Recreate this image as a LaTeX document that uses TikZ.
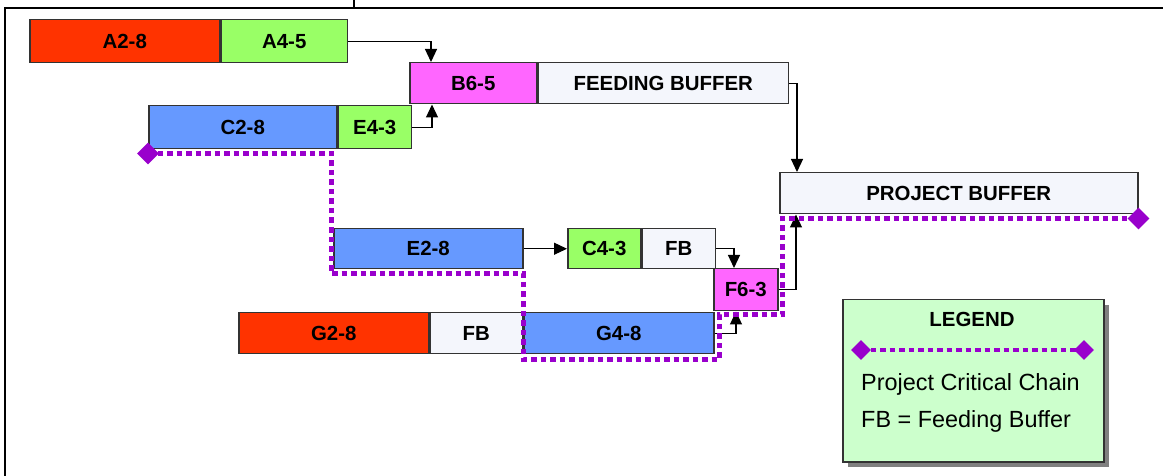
\documentclass[tikz,border=0pt]{standalone}
\usepackage{fontspec}
\setmainfont{Liberation Sans}
\usetikzlibrary{positioning,calc,arrows.meta,shapes.geometric,shadows}

\definecolor{taskred}{HTML}{FF3300}
\definecolor{taskgreen}{HTML}{99FF66}
\definecolor{taskblue}{HTML}{6699FF}
\definecolor{taskpink}{HTML}{FF66FF}
\definecolor{bufferfill}{HTML}{F4F6FC}
\definecolor{chain}{HTML}{9900CC}
\definecolor{legendfill}{HTML}{CCFFCC}

\tikzset{
	task/.style={draw=black!80, line width=1.5bp, inner sep=0pt, minimum height=41bp, font=\fontsize{20.5}{24}\selectfont\bfseries},
	flow/.style={line width=1.2bp, -{Triangle[width=12bp,length=13bp]}},
	critical/.style={draw=chain, line width=5bp, dash pattern=on 5.5bp off 4bp},
	gem/.style={diamond, fill=chain, inner sep=0pt, minimum size=22bp},
}

\begin{document}
\begin{tikzpicture}[x=1bp,y=-1bp]
		\useasboundingbox (0,0) rectangle (1163,476);

		\draw[line width=2bp] (5,476) |- (1163,8);
		\draw[line width=1.5bp] (354,0) -- (354,8);

		\node[task, fill=taskred, minimum width=190bp, minimum height=43bp, anchor=north west] (a28) at (29,19) {A2-8};
		\node[task, fill=taskgreen, minimum width=126bp, minimum height=43bp, right=0pt of a28] (a45) {A4-5};

		\node[task, fill=taskpink, minimum width=127bp, anchor=north west] (b65) at (409,62) {B6-5};
		\node[task, fill=bufferfill, minimum width=250bp, right=0pt of b65] (fbuf) {FEEDING BUFFER};

		\node[task, fill=taskblue, minimum width=188bp, minimum height=43bp, anchor=north west] (c28) at (148,105) {C2-8};
		\node[task, fill=taskgreen, minimum width=73bp, minimum height=43bp, right=0pt of c28] (e43) {E4-3};

		\node[task, fill=bufferfill, minimum width=358bp, anchor=north west] (pb) at (779,172) {PROJECT BUFFER};

		\node[task, fill=taskblue, minimum width=189bp, minimum height=40bp, anchor=north west] (e28) at (333,228) {E2-8};
		\node[task, fill=taskgreen, minimum width=73bp, minimum height=40bp, anchor=north west] (c43) at (567,228) {C4-3};
		\node[task, fill=bufferfill, minimum width=73bp, minimum height=40bp, right=0pt of c43] (fb1) {FB};

		\node[task, fill=taskpink, minimum width=64bp, minimum height=42bp, anchor=north west] (f63) at (713,268) {F6-3};

		\node[task, fill=taskred, minimum width=190bp, anchor=north west] (g28) at (238,312) {G2-8};
		\node[task, fill=bufferfill, minimum width=92bp, right=0pt of g28] (fb2) {FB};
		\node[task, fill=taskblue, minimum width=190bp, right=0pt of fb2] (g48) {G4-8};

		\draw[flow] (a45.east) -| ($(b65.north west)+(22,0)$);
		\draw[flow] (e43.east) -| ($(b65.south west)+(23,0)$);
		\draw[flow] (fbuf.east) -| ($(pb.north west)+(18,0)$);
		\draw[flow] (e28.east) -- (c43.west);
		\draw[flow] (fb1.east) -| ($(f63.north west)+(21,0)$);
		\draw[flow] (g48.east) -| ($(f63.south west)+(23,0)$);
		\draw[flow] (f63.east) -| ($(pb.south west)+(17,0)$);

		\coordinate (chainstart) at ($(c28.south west)+(0,4)$);
		\coordinate (chainend) at ($(pb.south east)+(0,4)$);
		\draw[critical] (chainstart) -| ($(e28.south west)+(-2,4)$)
			-| ($(g48.south west)+(0,5)$)
			-| ($(g48.east |- f63.south)+(5,3)$)
			-| ($(f63.east |- pb.south)+(4,4)$) -- (chainend);
		\node[gem] (gemstart) at (chainstart) {};
		\node[gem] (gemend) at (chainend) {};

		\node[draw=black!80, line width=1.5bp, fill=legendfill, minimum width=261bp, minimum height=162bp, anchor=north west,
			drop shadow={shadow xshift=5bp, shadow yshift=-5bp, fill=black!50, opacity=1}] (legend) at (842,299) {};
		\node[anchor=base, inner sep=0pt, font=\fontsize{20.5}{24}\selectfont\bfseries] (legtitle) at (972,327) {LEGEND};
		\coordinate (legleft) at (861,350);
		\coordinate (legright) at (1084,350);
		\draw[critical, line width=4.5bp] (legleft) -- (legright);
		\node[gem, minimum size=20bp] (legdiaA) at (legleft) {};
		\node[gem, minimum size=20bp] (legdiaB) at (legright) {};
		\node[anchor=base west, inner sep=0pt, font=\fontsize{23.5}{28}\selectfont] (legchain) at (861,391) {Project Critical Chain};
		\node[anchor=base west, inner sep=0pt, font=\fontsize{23.5}{28}\selectfont] (legfb) at (861,428) {FB = Feeding Buffer};
	\end{tikzpicture}
\end{document}
